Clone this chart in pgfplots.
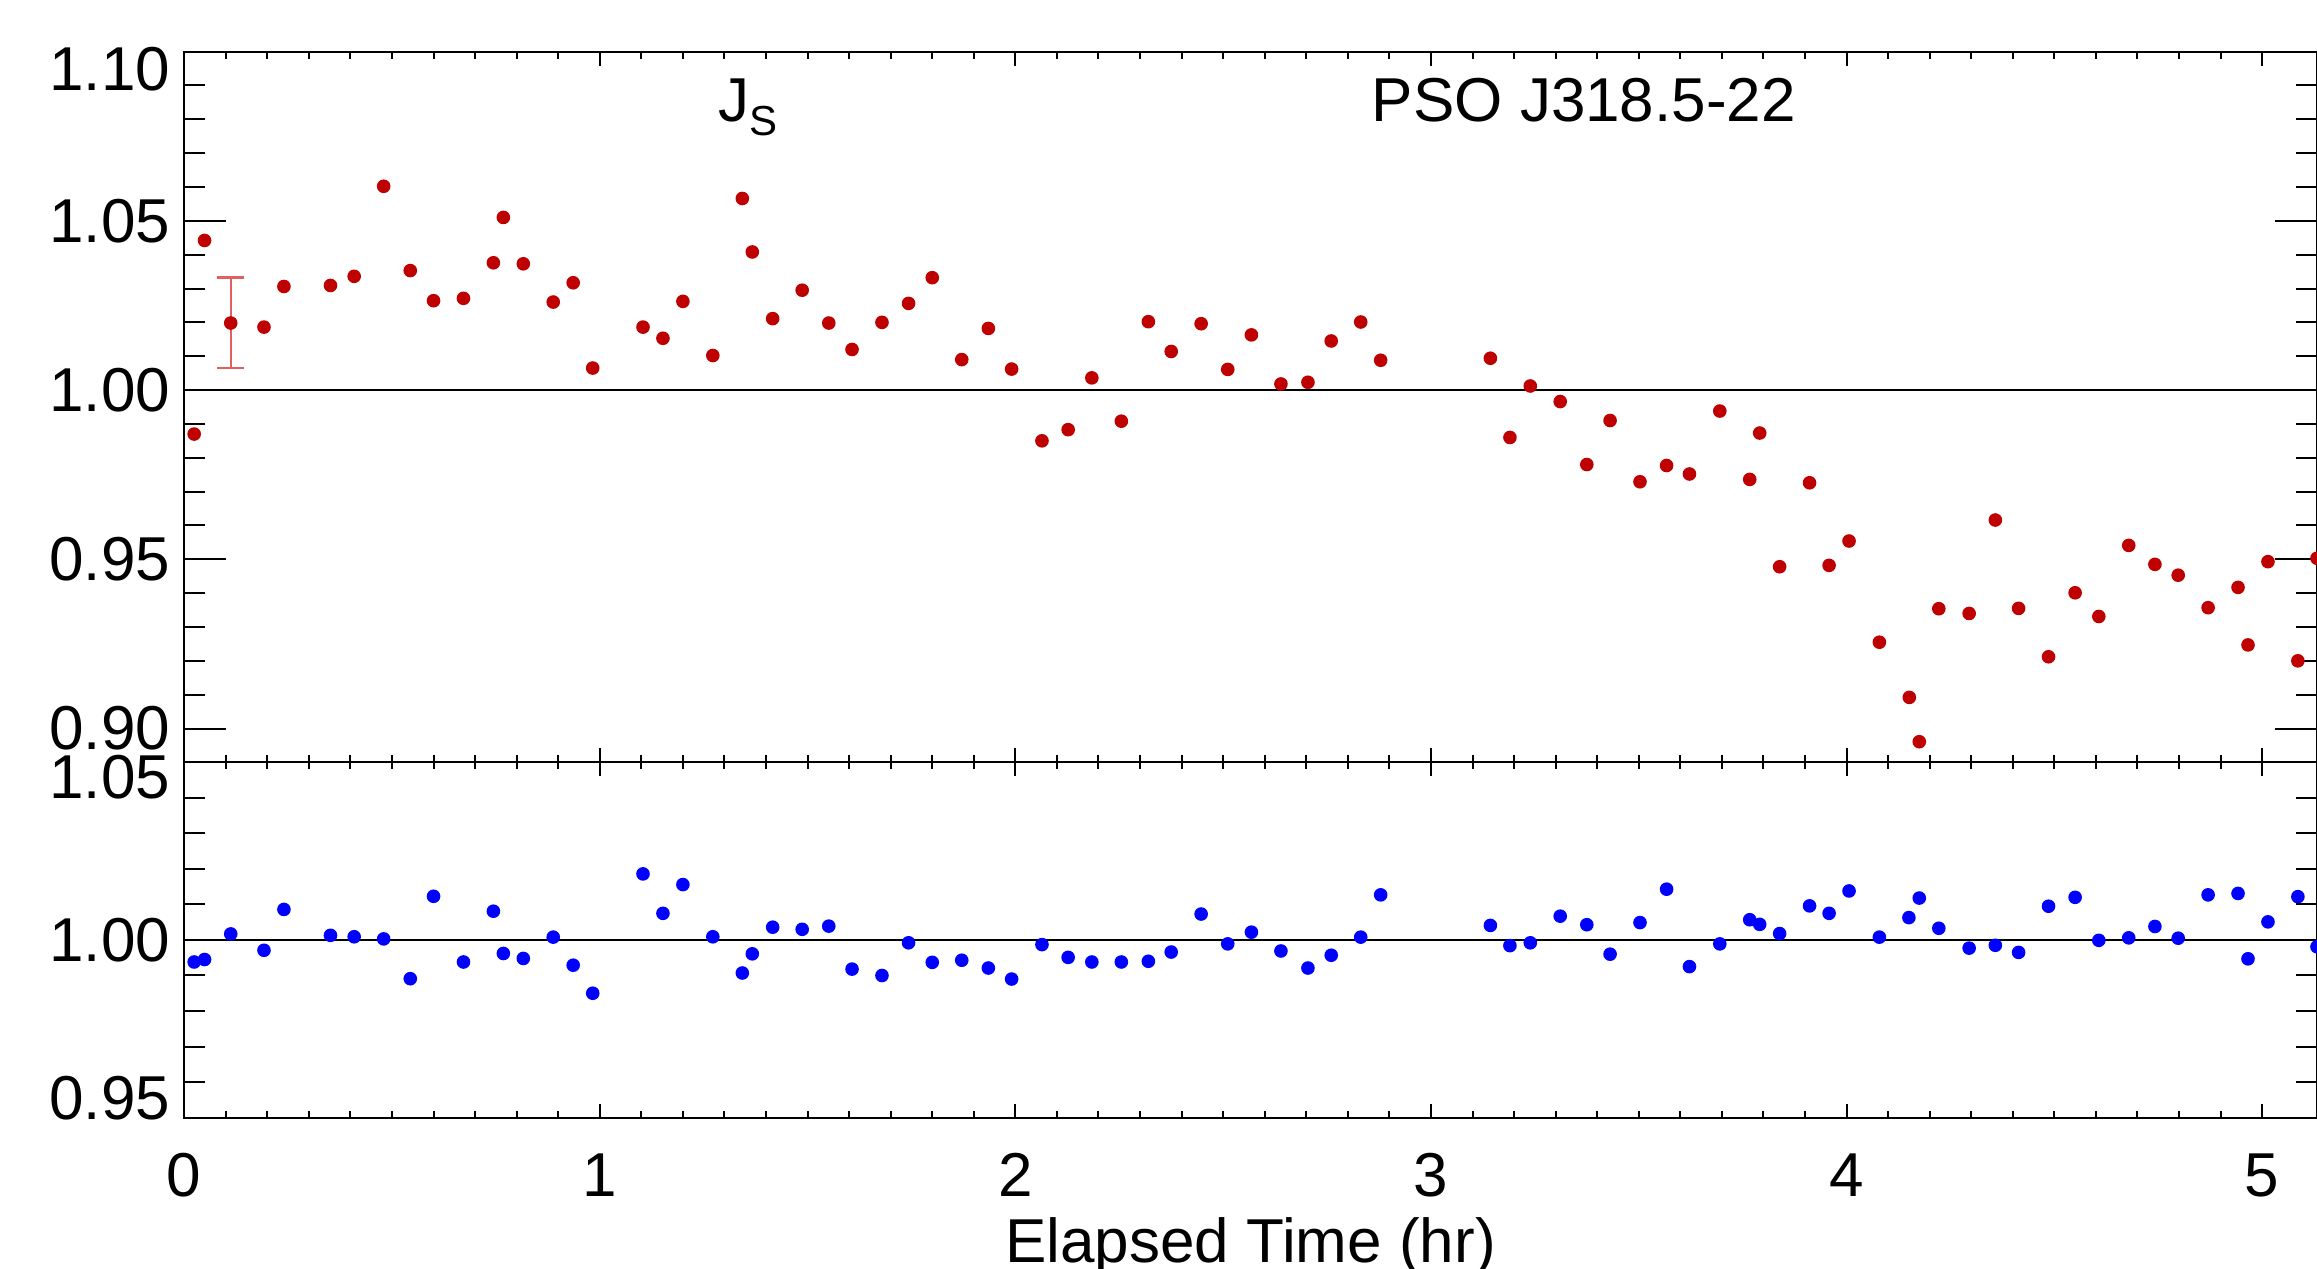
\documentclass[border=0pt]{standalone}
\usepackage{fontspec}
\setmainfont{Liberation Sans}
\setsansfont{Liberation Sans}
\usepackage{pgfplots}
\usepackage{pgfplotstable}
\pgfplotsset{compat=1.18}
\definecolor{myred}{RGB}{190,0,0}
\definecolor{myblue}{RGB}{0,0,255}
\definecolor{errred}{RGB}{225,95,95}

\pgfplotstableread{
x y
0.024 0.9870
0.049 1.0442
0.112 1.0198
0.192 1.0186
0.240 1.0306
0.352 1.0309
0.409 1.0336
0.480 1.0602
0.544 1.0353
0.600 1.0264
0.672 1.0271
0.744 1.0376
0.768 1.0510
0.816 1.0373
0.888 1.0260
0.936 1.0317
0.983 1.0065
1.104 1.0186
1.152 1.0153
1.200 1.0262
1.272 1.0102
1.343 1.0566
1.367 1.0408
1.416 1.0211
1.487 1.0295
1.551 1.0198
1.607 1.0120
1.679 1.0200
1.743 1.0256
1.800 1.0332
1.871 1.0090
1.935 1.0182
1.991 1.0062
2.064 0.9850
2.127 0.9883
2.184 1.0036
2.255 0.9908
2.320 1.0202
2.375 1.0114
2.447 1.0196
2.511 1.0061
2.568 1.0163
2.639 1.0018
2.704 1.0023
2.760 1.0145
2.831 1.0201
2.879 1.0088
3.143 1.0094
3.190 0.9860
3.239 1.0012
3.311 0.9966
3.375 0.9780
3.431 0.9910
3.503 0.9729
3.567 0.9777
3.622 0.9752
3.695 0.9938
3.767 0.9736
3.791 0.9873
3.839 0.9478
3.911 0.9726
3.958 0.9482
4.006 0.9554
4.079 0.9255
4.151 0.9092
4.175 0.8961
4.222 0.9354
4.295 0.9340
4.358 0.9616
4.414 0.9355
4.486 0.9212
4.550 0.9401
4.607 0.9331
4.679 0.9541
4.742 0.9485
4.798 0.9453
4.870 0.9357
4.942 0.9417
4.966 0.9247
5.014 0.9493
5.086 0.9200
5.132 0.9503
}\reddata

\pgfplotstableread{
x y
0.024 0.9938
0.049 0.9945
0.112 1.0017
0.192 0.9971
0.240 1.0086
0.352 1.0013
0.409 1.0009
0.480 1.0003
0.544 0.9891
0.600 1.0123
0.672 0.9938
0.744 1.0081
0.768 0.9962
0.816 0.9948
0.888 1.0008
0.936 0.9929
0.983 0.9850
1.104 1.0186
1.152 1.0075
1.200 1.0156
1.272 1.0009
1.343 0.9907
1.367 0.9961
1.416 1.0036
1.487 1.0030
1.551 1.0039
1.607 0.9918
1.679 0.9900
1.743 0.9992
1.800 0.9937
1.871 0.9943
1.935 0.9921
1.991 0.9890
2.064 0.9987
2.127 0.9951
2.184 0.9938
2.255 0.9938
2.320 0.9940
2.375 0.9966
2.447 1.0073
2.511 0.9989
2.568 1.0022
2.639 0.9969
2.704 0.9921
2.760 0.9957
2.831 1.0008
2.879 1.0127
3.143 1.0041
3.190 0.9984
3.239 0.9992
3.311 1.0067
3.375 1.0043
3.431 0.9960
3.503 1.0049
3.567 1.0143
3.622 0.9925
3.695 0.9989
3.767 1.0057
3.791 1.0044
3.839 1.0018
3.911 1.0096
3.958 1.0075
4.006 1.0138
4.079 1.0008
4.150 1.0063
4.175 1.0118
4.222 1.0033
4.295 0.9977
4.358 0.9985
4.414 0.9965
4.486 1.0095
4.550 1.0120
4.607 0.9999
4.679 1.0006
4.742 1.0038
4.798 1.0005
4.870 1.0127
4.942 1.0131
4.966 0.9947
5.014 1.0051
5.086 1.0122
5.132 0.9981
}\bluedata

\begin{document}
\begin{tikzpicture}[font=\fontsize{15.5}{18}\selectfont]
\pgfplotsset{
  lcstyle/.style={
    scale only axis, width=533.2pt,
    xmin=0, xmax=5.132,
    xtick={0,1,2,3,4,5}, minor x tick num=9,
    minor y tick num=4,
    tick align=inside, xtick pos=both, ytick pos=both,
    axis line style={line width=0.5pt},
    tick style={black, line width=0.5pt},
    xtick style={/pgfplots/major tick length=3.5pt, /pgfplots/minor tick length=1.75pt},
    ytick style={/pgfplots/major tick length=10.5pt, /pgfplots/minor tick length=5.25pt},
  }
}
% bottom panel
\begin{axis}[lcstyle, at={(0,0)}, anchor=south west, height=88.8pt,
  ymin=0.95, ymax=1.05, ytick={0.95,1.00,1.05},
  yticklabels={\raisebox{4.8pt}[\height][\depth]{0.95},1.00,\raisebox{-3.7pt}[\height][\depth]{1.05}},
  xticklabels={0,1,2,3,4,5},
  xticklabel style={anchor=base, yshift=-19.8pt},
  xlabel={Elapsed Time (hr)},
  xlabel style={at={(axis description cs:0.5,0)}, anchor=base, yshift=-36.3pt},
]
\addplot[black, line width=0.5pt, forget plot] coordinates {(0,1) (5.132,1)};
\addplot[only marks, mark=*, mark size=1.5pt, color=myblue] table[x=x,y=y] {\bluedata};
\end{axis}
% top panel
\begin{axis}[lcstyle, at={(0,88.8pt)}, anchor=south west, height=177.7pt,
  ymin=0.89, ymax=1.10, ytick={0.90,0.95,1.00,1.05,1.10},
  yticklabels={0.90,0.95,1.00,1.05,\raisebox{-4.3pt}[\height][\depth]{1.10}},
  xticklabels={},
]
\addplot[black, line width=0.5pt, forget plot] coordinates {(0,1) (5.132,1)};
% error bar of a typical point
\addplot[errred, line width=0.6pt, forget plot] coordinates {(0.112,1.0065) (0.112,1.0333)};
\addplot[errred, line width=0.6pt, forget plot] coordinates {(0.080,1.0333) (0.144,1.0333)};
\addplot[errred, line width=0.6pt, forget plot] coordinates {(0.080,1.0065) (0.144,1.0065)};
\addplot[only marks, mark=*, mark size=1.5pt, color=myred] table[x=x,y=y] {\reddata};
\node[anchor=base west, inner sep=0pt] at (axis cs:1.284,1.0793) {J\raisebox{-3.5pt}{\fontsize{10.5}{12}\selectfont S}};
\node[anchor=base west, inner sep=0pt] at (axis cs:2.856,1.0793) {PSO J318.5-22};
\end{axis}
\pgfresetboundingbox
\path[use as bounding box] (-46.05pt,-37.8pt) rectangle (533.2pt,279.4pt);
\end{tikzpicture}
\end{document}
